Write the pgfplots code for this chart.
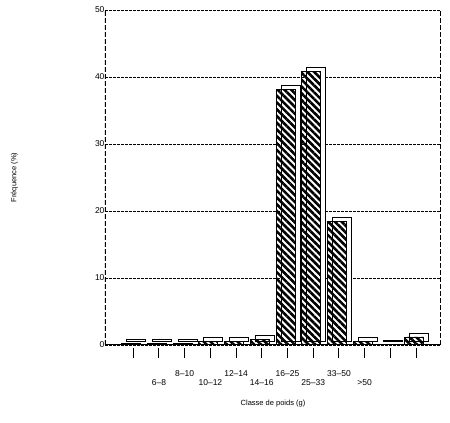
\documentclass[border=0pt]{standalone}
\usepackage{fontspec}
\setmainfont{Liberation Sans}
\usepackage{pgfplots}
\pgfplotsset{compat=1.18}
\usetikzlibrary{patterns.meta}

\pgfplotstableread{
pos freq
1 0.2
2 0.2
3 0.2
4 0.5
5 0.5
6 0.8
7 38.2
8 40.8
9 18.4
10 0.5
11 0.1
12 1.2
}\poids

\begin{document}
\begin{tikzpicture}
\begin{axis}[
    scale only axis,
    width=336pt, height=335pt,
    xmin=-0.1, xmax=12.97,
    ymin=0, ymax=50,
    ytick={0,10,20,30,40,50},
    ymajorgrids,
    grid style={black, line width=0.6pt, dash pattern=on 3pt off 1pt},
    axis line style={draw=none},
    tick pos=left,
    ytick style={draw=none},
    yticklabel style={font=\fontsize{8.5}{9}\selectfont, xshift=3pt},
    /pgf/number format/assume math mode=true,
    xtick={1,...,12},
    xtick align=outside,
    major tick length=10pt,
    xtick style={black, line width=1pt, yshift=-3pt},
    xticklabels={,{\mbox{}\\[5pt]6--8},{8--10},{\mbox{}\\[5pt]10--12},{12--14},{\mbox{}\\[5pt]14--16},{16--25},{\mbox{}\\[5pt]25--33},{33--50},{\mbox{}\\[5pt]>50},,},
    xticklabel style={font=\fontsize{8.5}{10}\selectfont, align=center, anchor=north, yshift=-12pt},
    xlabel={Classe de poids (g)},
    xlabel style={font=\fontsize{7.5}{9}\selectfont, yshift=-8pt},
    ylabel={Fréquence (\%)},
    ylabel style={font=\fontsize{7.5}{9}\selectfont, at={(axis description cs:-0.27,0.5)}, anchor=center},
    ybar, bar width=19pt,
]
% back face (depth of the 3D bars)
\addplot[fill=white, draw=black, line width=0.9pt, bar shift=3pt, yshift=4pt] table[x=pos, y=freq] {\poids};
% front face, hatched
\addplot[pattern={Lines[angle=-45, distance=4.8pt, line width=2.6pt]}, draw=black, line width=0.9pt, bar shift=-2pt] table[x=pos, y=freq] {\poids};
\draw[line width=1.1pt, dash pattern=on 5pt off 2pt] (rel axis cs:0,0) -- (rel axis cs:0,1);
\draw[line width=1.1pt, dash pattern=on 5pt off 2pt] (rel axis cs:1,0) -- (rel axis cs:1,1);
\draw[line width=1pt] (rel axis cs:0,0) -- (rel axis cs:1,0);
\end{axis}
\path ([xshift=-105pt, yshift=-78pt]current axis.south west) rectangle ([xshift=9pt, yshift=10pt]current axis.north east);
\end{tikzpicture}
\end{document}
